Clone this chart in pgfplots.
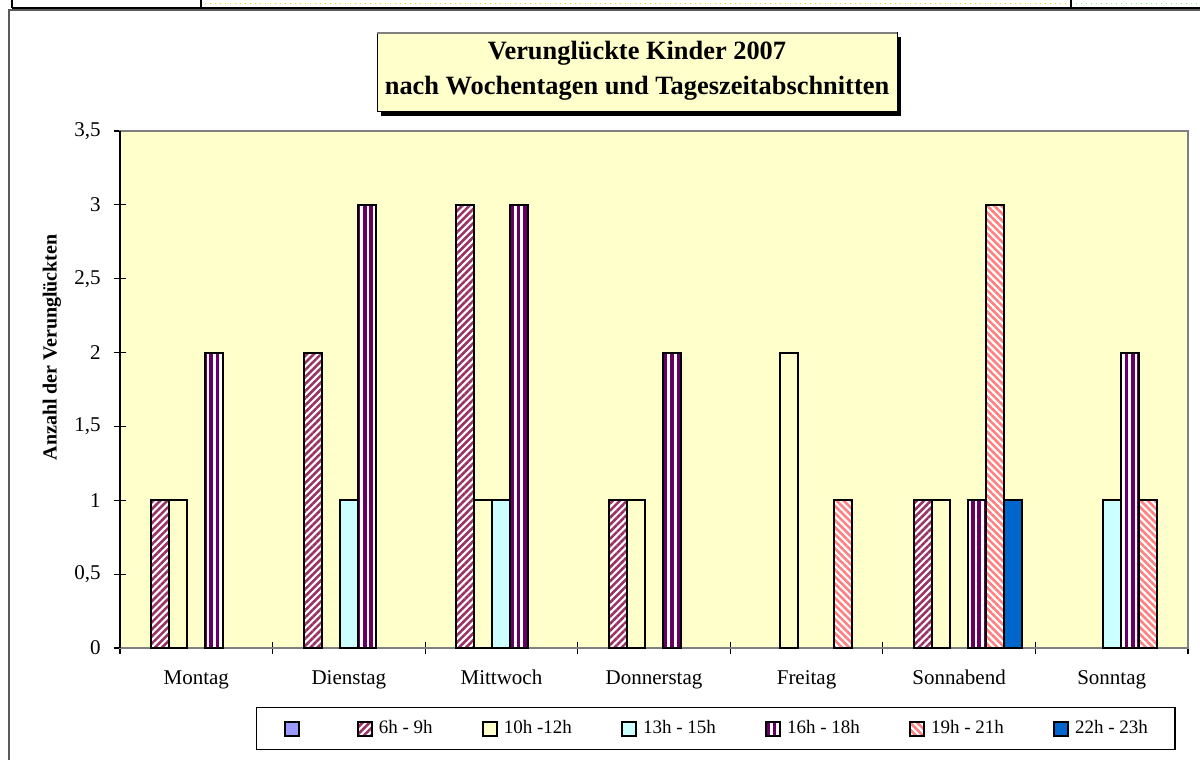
\documentclass[border=0pt]{standalone}
\usepackage{fontspec}
\setmainfont{Liberation Serif}
\usepackage{pgfplots}
\pgfplotsset{compat=1.18}
\usetikzlibrary{patterns.meta}
\definecolor{cone}{HTML}{9999FF}
\definecolor{csix}{HTML}{993366}
\definecolor{cten}{HTML}{FFFFCC}
\definecolor{cthirteen}{HTML}{CCFFFF}
\definecolor{csixteen}{HTML}{660066}
\definecolor{cnineteen}{HTML}{FF8080}
\definecolor{ctwentytwo}{HTML}{0066CC}
\definecolor{bgy}{HTML}{FFFFCC}
\definecolor{axgray}{HTML}{808080}
\begin{document}
\begin{tikzpicture}
\useasboundingbox (0,0) rectangle (600pt,380pt);
% spreadsheet strip at the top
\draw[yellow!70!orange, dotted, line width=0.5pt] (102.5pt,378.3pt) -- (533pt,378.3pt);
\draw[green!60!white, dotted, line width=0.5pt] (538pt,378.3pt) -- (600pt,378.3pt);
\draw[black, line width=1pt] (5.75pt,380pt) -- (5.75pt,376pt);
\draw[black, line width=1pt] (100.25pt,380pt) -- (100.25pt,376pt);
\draw[black, line width=1pt] (535.5pt,380pt) -- (535.5pt,376pt);
\draw[black, line width=1pt] (5.75pt,376pt) -- (600pt,376pt);
% chart frame
\draw[axgray!70!black, line width=0.9pt] (4.5pt,0pt) -- (4.5pt,375.1pt) -- (600pt,375.1pt);
% title box
\fill[black] (190.5pt,322pt) rectangle (450.5pt,361.5pt);
\draw[fill=bgy, draw=black, line width=0.5pt] (188.5pt,324pt) rectangle (448.5pt,363.5pt);
\draw[axgray, line width=1pt] (188.5pt,363.5pt) -- (448.5pt,363.5pt);
\node[anchor=base, font=\fontsize{13.2}{15}\selectfont\bfseries, inner sep=0pt] at (318.5pt,350pt) {Verunglückte Kinder 2007};
\node[anchor=base, font=\fontsize{13.2}{15}\selectfont\bfseries, inner sep=0pt] at (318.5pt,332.5pt) {nach Wochentagen und Tageszeitabschnitten};
% y label
\node[rotate=90, font=\fontsize{10}{12}\selectfont\bfseries, inner sep=0pt] at (26pt,206.3pt) {Anzahl der Verunglückten};
\begin{axis}[
  at={(60pt,56pt)}, anchor=south west,
  width=534pt, height=258.5pt, scale only axis,
  xmin=-0.5, xmax=6.5, ymin=0, ymax=3.5,
  clip=false,
  ybar, bar width=9pt,
  axis background/.style={fill=bgy},
  axis line style={draw=axgray, line width=1pt},
  xtick={-0.5,0.5,1.5,2.5,3.5,4.5,5.5,6.5},
  x tick label as interval,
  xticklabels={Montag,Dienstag,Mittwoch,Donnerstag,Freitag,Sonnabend,Sonntag},
  ytick={0,0.5,1,1.5,2,2.5,3,3.5},
  tick pos=left,
  tick align=center,
  major tick length=6pt,
  tick style={black, line width=0.6pt},
  /pgf/number format/use comma,
  /pgf/number format/assume math mode=true,
  ticklabel style={font=\fontsize{10.5}{12}\selectfont},
  yticklabel style={anchor=east, inner sep=0pt, xshift=-6.5pt},
  xticklabel style={anchor=base, inner sep=0pt, yshift=-15.5pt},
  legend columns=7,
  legend image code/.code={\draw[#1, draw=black, line width=1pt] (0pt,-3.5pt) rectangle (7pt,3.5pt);},
  legend style={at={(axis description cs:0.1273,-0.1141)}, anchor=north west,
    draw=black, line width=0.6pt, fill=white,
    font=\fontsize{9.5}{11}\selectfont,
    inner xsep=13.5pt, inner ysep=6pt,
    /tikz/every odd column/.append style={column sep=3pt},
    /tikz/every even column/.append style={column sep=24.6pt},
    nodes={inner xsep=0pt, inner ysep=0pt, text height=6.8pt, text depth=2.2pt}},
]
\addlegendimage{fill=cone}
% 6h - 9h
\addplot[forget plot, bar shift=-18pt, draw=black, line width=1pt, fill=white]
  coordinates {(0,1) (1,2) (2,3) (3,1) (5,1)};
\addplot[bar shift=-18pt, draw=black, line width=1pt,
  pattern={Lines[angle=45,distance=2.5pt,line width=1.3pt]}, pattern color=csix]
  coordinates {(0,1) (1,2) (2,3) (3,1) (5,1)};
% 10h - 12h
\addplot[bar shift=-9pt, draw=black, line width=1pt, fill=cten]
  coordinates {(0,1) (2,1) (3,1) (4,2) (5,1)};
% 13h - 15h
\addplot[bar shift=0pt, draw=black, line width=1pt, fill=cthirteen]
  coordinates {(1,1) (2,1) (6,1)};
% 16h - 18h
\addplot[forget plot, bar shift=9pt, draw=black, line width=1pt, fill=white]
  coordinates {(0,2) (1,3) (2,3) (3,2) (5,1) (6,2)};
\addplot[bar shift=9pt, draw=black, line width=1pt,
  pattern={Lines[angle=90,distance=3.2pt,line width=1.8pt]}, pattern color=csixteen]
  coordinates {(0,2) (1,3) (2,3) (3,2) (5,1) (6,2)};
% 19h - 21h
\addplot[forget plot, bar shift=18pt, draw=black, line width=1pt, fill=white]
  coordinates {(4,1) (5,3) (6,1)};
\addplot[bar shift=18pt, draw=black, line width=1pt,
  pattern={Lines[angle=-45,distance=2.5pt,line width=1.3pt]}, pattern color=cnineteen]
  coordinates {(4,1) (5,3) (6,1)};
% 22h - 23h
\addplot[bar shift=27pt, draw=black, line width=1pt, fill=ctwentytwo]
  coordinates {(5,1)};
\legend{\mbox{},6h - 9h,10h -12h,13h - 15h,16h - 18h,19h - 21h,22h - 23h}
\draw[black, line width=1pt] (rel axis cs:0,0) -- (rel axis cs:0,1);
\end{axis}
\end{tikzpicture}
\end{document}
